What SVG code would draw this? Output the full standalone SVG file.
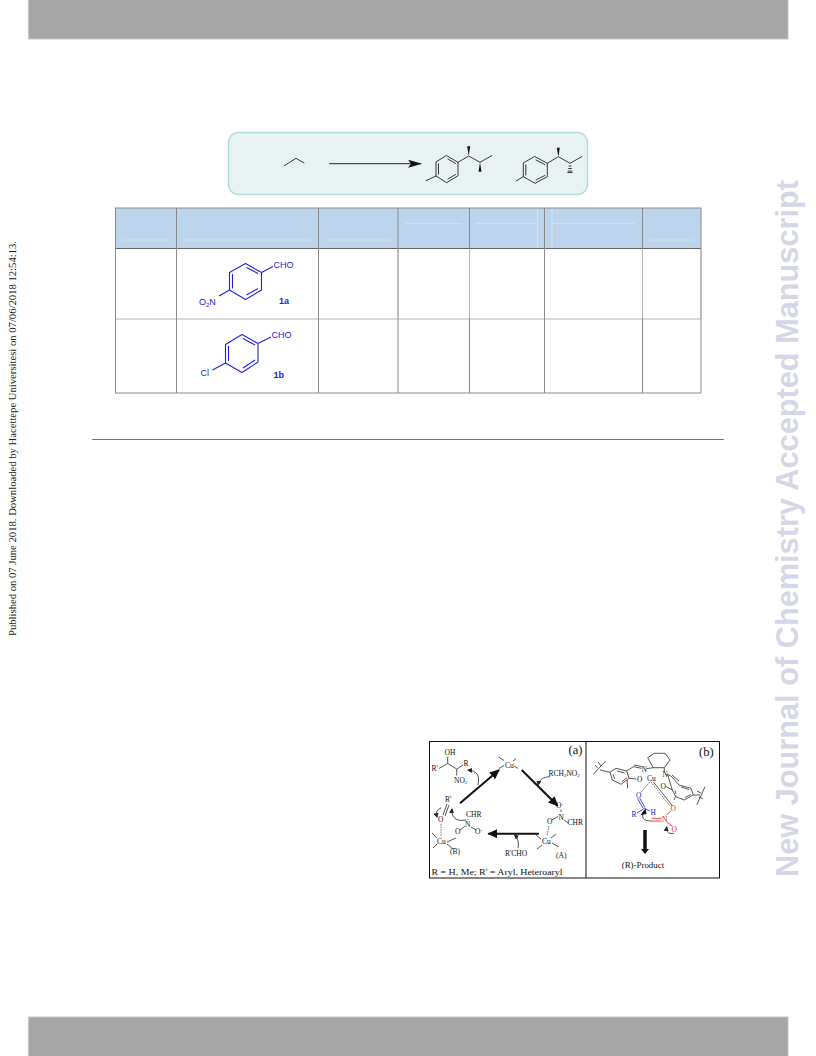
<svg xmlns="http://www.w3.org/2000/svg" width="816" height="1056" viewBox="0 0 816 1056">
<defs>
<marker id="head" markerWidth="14" markerHeight="8" refX="13" refY="4" orient="auto" markerUnits="userSpaceOnUse"><path d="M0 0L14 4L0 8L3 4Z" fill="#111"/></marker>
<marker id="big" markerWidth="10" markerHeight="9" refX="9" refY="4.500" orient="auto" markerUnits="userSpaceOnUse"><path d="M0 0L10 4.500L0 9Z" fill="#111"/></marker>
<marker id="tiny" markerWidth="5" markerHeight="5" refX="4" refY="2.500" orient="auto" markerUnits="userSpaceOnUse"><path d="M0 0L5 2.500L0 5Z" fill="#222"/></marker>
</defs>
<style>
.band{fill:#a6a6a6;stroke:#c4c4c4;stroke-width:1}
.k{fill:none;stroke:#222;stroke-width:.9;stroke-linecap:round;stroke-linejoin:round}
.w{fill:#111;stroke:none}
.b{fill:none;stroke:#2222e0;stroke-width:1.1;stroke-linejoin:round}
.bt{font:9px "Liberation Sans",Arial,sans-serif;fill:#1a1ae0}
.btb{font:bold 9px "Liberation Sans",Arial,sans-serif;fill:#1a1ae0}
.grid{stroke:#8a8a8a;stroke-width:1}
.lt{stroke:#b4b4b4;stroke-width:1}
.dk{stroke:#666;stroke-width:1}
.hl{stroke:#d3e3f3;stroke-width:.8}
.s{font:7.500px "Liberation Serif","Times New Roman",serif;fill:#111}
.sb{font:7.500px "Liberation Serif","Times New Roman",serif;fill:#1a1ae0}
.sr{font:7.500px "Liberation Serif","Times New Roman",serif;fill:#e01a1a}
.f{font:8px "Liberation Serif","Times New Roman",serif;fill:#111}
.l{font:12.500px "Liberation Serif","Times New Roman",serif;fill:#111}
.m{fill:none;stroke:#111;stroke-width:.7}
.d{fill:none;stroke:#333;stroke-width:.7;stroke-dasharray:1.500 1}
.ar{fill:none;stroke:#111;stroke-width:2;marker-end:url(#big)}
.cv{fill:none;stroke:#222;stroke-width:.8;marker-end:url(#tiny)}
</style>
<rect width="816" height="1056" fill="#fff"/>
<rect id="banner-top" class="band" x="28.500" y="-1" width="759.500" height="40"/>
<rect id="banner-bottom" class="band" x="28.500" y="1017" width="759.500" height="40"/>

<text id="side-note" transform="translate(16 636) rotate(-90)" font-family="'Liberation Serif','Times New Roman',serif" font-size="10" fill="#222" textLength="395" lengthAdjust="spacingAndGlyphs">Published on 07 June 2018. Downloaded by Hacettepe Universitesi on 07/06/2018 12:54:13.</text>
<text id="watermark" transform="translate(798 877) rotate(-90)" font-family="'Liberation Sans',Arial,sans-serif" font-weight="bold" font-size="30.500" fill="#d6d6e8" textLength="697" lengthAdjust="spacingAndGlyphs">New Journal of Chemistry Accepted Manuscript</text>

<g id="scheme">
<rect x="228.500" y="132.500" width="359" height="62" rx="10" fill="#e9f2f3" stroke="#b5dad9" stroke-width="1.500"/>
<path class="k" d="M284.300 165.700L296 158.300L304 163"/>
<path d="M329.300 163.700H421" stroke="#222" stroke-width="1" marker-end="url(#head)"/>
<g id="product-1">
<path class="k" d="M446.700 155.700L458 162.300V175.700L446.700 182.700L436 176V162.300ZM448 159L455.500 163.500M455.500 174.500L448 179M438.500 164V174M436 176L426 180.700M458 162.300L468.700 156L480 162.300L491.700 155.700"/>
<path class="w" d="M468.700 156L467.200 146.300H470.200ZM480 162.300L478.500 171.700H481.500Z"/>
</g>
<g id="product-2">
<path class="k" d="M535 156.700L547.300 163.300V176.700L535 183.300L523.300 176.700V163.300ZM536 160L544.800 164.500M544.800 175.500L536 180M525.800 165V175M523.300 176.700L516 181M547.300 163.300L558.300 156.700L570 163.300L581.700 156.700"/>
<path class="w" d="M558.300 156.700L556.800 147.700H559.800Z"/>
<path class="k" d="M569 166H571M568.600 168.500H571.400M568.200 171H571.800M567.800 172.500H572.200"/>
</g>
</g>

<g id="table">
<rect x="115" y="208" width="586" height="40.500" fill="#bdd5ec"/>
<path class="hl" d="M122 240H169M183 240H311M325 240H391M405 223.500H462M476 223.500H537M551 223.500H635M649 240H694"/>
<path d="M537.500 208V248M552 208V248" stroke="#d3e3f3" stroke-width="1"/>
<path class="grid" d="M115 208H701M115 393H701"/>
<path class="dk" d="M115 248.500H701"/>
<path class="lt" d="M115 319H701"/>
<path class="grid" d="M115.500 208V393M176.500 208V393M318.500 208V393M398 208V393M469.500 208V393M544.500 208V393M642.500 208V393M701 208V393"/>
<path class="lt" d="M398 249V318M469.500 249V318M642.500 249V318M701 249V318"/>
</g>

<g id="compound-1a">
<path class="b" d="M245.500 263.500L261.500 272.500V290L245.500 299.500L229.500 290V272.500ZM246.500 267.500L258 273.500M258 288.500L246.500 295M232.500 274V288.500M261.500 272.500L273 266.500M229.500 290L219 296"/>
<text class="bt" x="273.500" y="267.500">CHO</text>
<text class="bt" x="199" y="304.500">O<tspan font-size="6" dy="2">2</tspan><tspan dy="-2">N</tspan></text>
<text class="btb" x="279" y="304">1a</text>
</g>
<g id="compound-1b">
<path class="b" d="M242 334.500L258 343.500V362L242 372.500L225.500 363V344.500ZM243 338.500L255 345M255 360L243 368M228.500 346V361M258 343.500L271 337M225.500 363L212.500 370"/>
<text class="bt" x="271.500" y="338">CHO</text>
<text class="bt" x="200.500" y="376">Cl</text>
<text class="btb" x="273.500" y="378">1b</text>
</g>

<path id="rule" d="M92 439.500H724" stroke="#777" stroke-width="1"/>

<g id="mechanism">
<rect x="429.500" y="741.500" width="290" height="136.500" fill="#fff" stroke="#111" stroke-width="1"/>
<path d="M586 741.500V878" stroke="#111" stroke-width="1"/>
<g id="panel-a">
<text class="l" x="568.500" y="753.500">(a)</text>
<text class="s" x="444.500" y="755">OH</text>
<text class="s" x="431.500" y="771">R'</text>
<text class="s" x="463.500" y="766">R</text>
<text class="s" x="454" y="782.500">NO<tspan font-size="5" dy="1.500">2</tspan></text>
<path class="m" d="M439 768.500L447.700 763.500V756.500M447.700 763.500L456.700 769L463 765M456.700 769V775.500"/>
<g id="cu-top"><text class="s" x="505" y="767.500">Cu</text><path class="m" d="M498.500 757L504 760.500M514 766L518 768.500M499 768.500L504 765.500M513 761L516 758.500"/></g>
<path class="ar" d="M460 803.300L499 770"/>
<path class="ar" d="M521.700 770L557.700 805.700"/>
<path class="ar" d="M539 833.700H488.300"/>
<path class="cv" d="M478 785C480 775 477 771 468 770"/>
<path class="cv" d="M550 776.700C543 777 539 780 538.300 785"/>
<text class="s" x="548.500" y="775.500">RCH<tspan font-size="5" dy="1.500">2</tspan><tspan dy="-1.500">NO</tspan><tspan font-size="5" dy="1.500">2</tspan></text>
<text class="s" x="556" y="808">O<tspan font-size="5" dy="-2">-</tspan></text>
<text class="s" x="558.500" y="820">N</text>
<text class="s" x="567.500" y="825">CHR</text>
<text class="s" x="547" y="824">O</text>
<path class="m" d="M552 820L558 816.500M561 812V809.500M564 820L568 823"/>
<g id="cu-a"><text class="s" x="542" y="844">Cu</text><path class="m" d="M536 835L541 839M552 843L559 847M537 849L542 845M551 838L556 834"/><path class="d" d="M549 826L547 836"/></g>
<text class="s" x="505" y="855.500">R'CHO</text>
<path class="cv" d="M518 848C519 843 518 838 514.500 835"/>
<text class="s" x="556" y="857.500">(A)</text>
<text class="s" x="445" y="802">R'</text>
<text class="s" x="438" y="822">O</text>
<path class="m" d="M447 804L443 815M449 805L445 816"/>
<text class="s" x="466" y="817">CHR</text>
<text class="s" x="465" y="827">N</text>
<text class="s" x="475" y="834">O<tspan font-size="5" dy="-2">-</tspan></text>
<text class="s" x="455" y="834">O</text>
<path class="m" d="M468 819V820M471 827L476 830M460 830L465 826"/>
<g id="cu-b"><text class="s" x="437" y="844">Cu</text><path class="m" d="M432 833L437 838M447 842L456 838M433 848L437 844M447 844L453 849"/><path class="d" d="M441 824L441 836"/></g>
<path class="cv" d="M441 808C436 810 436 813 437 817"/>
<path class="cv" d="M466 820C456 822 451 817 452 809"/>
<text class="s" x="450" y="854">(B)</text>
<text class="f" x="431.500" y="874.500" textLength="131" lengthAdjust="spacingAndGlyphs">R = H, Me; R' = Aryl, Heteroaryl</text>
</g>
<g id="panel-b">
<text class="l" x="699" y="755.500">(b)</text>
<path class="m" d="M647.700 757.700L654.300 753.300H665L670 760L664.300 767.700H653.300ZM653.300 767.700L646.500 768.700M664.300 767.700V772"/>
<path class="m" d="M616 768.300L626.700 771L629 778.300L621 784.300L612.300 780L610 772.300ZM617 771L624.500 773M622 781.500L627 777.500M613 774.500L614.500 778.500M626.700 771L633.300 766.700L641.700 768.300M634 765L641.700 766.500M610 772.300L600 770M593.300 774.300L605.700 761M595 765L597.500 768M598 762L601 766M627 780L627.700 788.300M629 778.300L636.500 779"/>
<text class="s" x="641.500" y="772">N</text>
<text class="s" x="637" y="782">O</text>
<text class="s" x="647" y="780.500">Cu</text>
<text class="s" x="662.500" y="777">N</text>
<text class="s" x="660.500" y="788.500">O</text>
<path class="m" d="M667.500 774.300L671.700 776.700L679 785L691 788.300L693.300 795L684.300 800L675.700 796.700L672.300 790ZM672 775L679 781M681 787L689 789.500M691 794.500L685 797.500M676 794L675 790.500M666 786.500L672.300 790M693.300 795L700 795M696.700 805L705 786.700M697 791L701 793M699 797L703 799M675.700 796.700L674 800"/>
<path class="d" d="M650 781.700L640 793.300"/>
<path class="m" d="M653.300 781.700L672.300 805.700"/>
<path class="d" d="M651 782L670 806"/>
<text class="sb" x="636" y="798">O</text>
<text class="sb" x="650.500" y="815">H</text>
<text class="sb" x="631.500" y="817">R</text>
<path fill="none" stroke="#1a1ae0" stroke-width=".8" d="M637.500 798.500L643 808M639.500 798L645 807.500M644.300 808.300L650 811M644.300 808.300L637 813"/>
<text class="sr" x="670.500" y="810.500">O</text>
<text class="sr" x="662" y="822">N</text>
<text class="sr" x="671.500" y="832">O</text>
<path fill="none" stroke="#e01a1a" stroke-width=".8" d="M651.700 818.300H661.700M651.700 821H661.700M666.500 815L671 811M667 822L672 826"/>
<path class="m" d="M644 811C641 818 643 821 651.700 821"/>
<path class="w" d="M640.500 815L645.500 808.500L646.500 814Z"/>
<path class="cv" d="M674 833C670 835 666 832 666.700 827"/>
<path d="M645 830V850" stroke="#111" stroke-width="3.500"/>
<path class="w" d="M641 849H649L645 854Z"/>
<text class="f" x="621.700" y="867.700" textLength="42.500" lengthAdjust="spacingAndGlyphs">(R)-Product</text>
</g>
</g>
</svg>
